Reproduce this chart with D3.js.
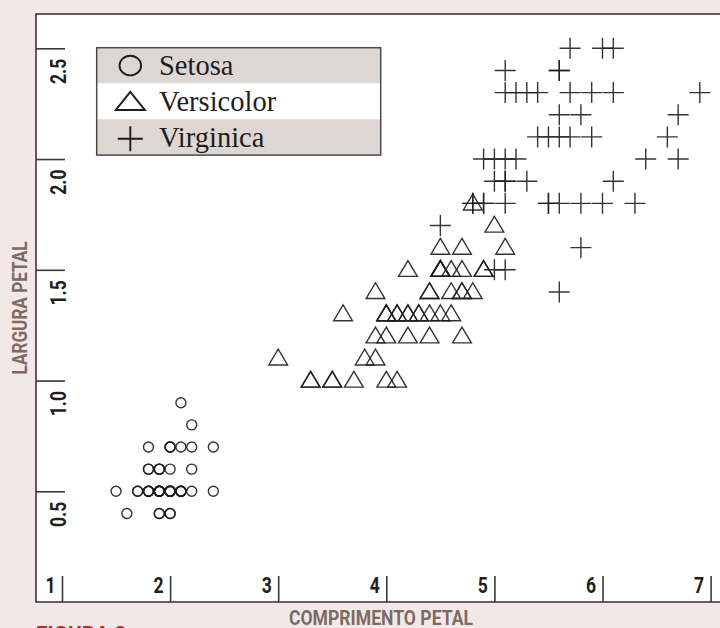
<!DOCTYPE html>
<html>
<head>
<meta charset="utf-8">
<script src="https://cdn.jsdelivr.net/npm/d3@7/dist/d3.min.js"></script>
<style>
  html, body { margin: 0; padding: 0; background: #f2e9e6; }
  svg { display: block; }
  .cond { font-family: Roboto, "Liberation Sans", sans-serif; font-weight: bold; }
</style>
</head>
<body>
<svg id="chart" width="720" height="628"></svg>
<script>
// ---------------- DATA ----------------
const xTicks = [1, 2, 3, 4, 5, 6, 7];
const yTicks = [0.5, 1.0, 1.5, 2.0, 2.5];
const xTitle = "COMPRIMENTO PETAL";
const yTitle = "LARGURA PETAL";
const figLabel = "FIGURA 3";
const speciesNames = ["Setosa", "Versicolor", "Virginica"];

// Setosa (as plotted in the figure)
const setosaLength = [1.9,1.9,1.8,2.0,1.9,2.2,1.9,2.0,1.9,2.0,2.0,2.1,1.9,1.6,1.7,2.0,1.8,1.9,2.2,2.0,2.2,2.0,1.5,2.2,2.4,2.1,2.1,2.0,1.9,2.1,2.1,2.0,2.0,1.9,2.0,1.7,1.8,1.9,1.8,2.0,1.8,1.8,1.8,2.1,2.4,1.9,2.1,1.9,2.0,1.9];
const setosaWidth  = [0.5,0.5,0.5,0.5,0.5,0.7,0.6,0.5,0.5,0.4,0.5,0.5,0.4,0.4,0.5,0.7,0.7,0.6,0.6,0.6,0.5,0.7,0.5,0.8,0.5,0.5,0.7,0.5,0.5,0.5,0.5,0.7,0.4,0.5,0.5,0.5,0.5,0.4,0.5,0.5,0.6,0.6,0.5,0.9,0.7,0.6,0.5,0.5,0.5,0.5];

// Versicolor
const versicolorLength = [4.7,4.5,4.9,4.0,4.6,4.5,4.7,3.3,4.6,3.9,3.5,4.2,4.0,4.7,3.6,4.4,4.5,4.1,4.5,3.9,4.8,4.0,4.9,4.7,4.3,4.4,4.8,5.0,4.5,3.5,3.8,3.7,3.9,5.1,4.5,4.5,4.7,4.4,4.1,4.0,4.4,4.6,4.0,3.3,4.2,4.2,4.2,4.3,3.0,4.1];
const versicolorWidth  = [1.4,1.5,1.5,1.3,1.5,1.3,1.6,1.0,1.3,1.4,1.0,1.5,1.0,1.4,1.3,1.4,1.5,1.0,1.5,1.1,1.8,1.3,1.5,1.2,1.3,1.4,1.4,1.7,1.5,1.0,1.1,1.0,1.2,1.6,1.5,1.6,1.5,1.3,1.3,1.3,1.2,1.4,1.2,1.0,1.3,1.2,1.3,1.3,1.1,1.3];

// Virginica
const virginicaLength = [6.0,5.1,5.9,5.6,5.8,6.6,4.5,6.3,5.8,6.1,5.1,5.3,5.5,5.0,5.1,5.3,5.5,6.7,6.9,5.0,5.7,4.9,6.7,4.9,5.7,6.0,4.8,4.9,5.6,5.8,6.1,6.4,5.6,5.1,5.6,6.1,5.6,5.5,4.8,5.4,5.6,5.1,5.1,5.9,5.7,5.2,5.0,5.2,5.4,5.1];
const virginicaWidth  = [2.5,1.9,2.1,1.8,2.2,2.1,1.7,1.8,1.8,2.5,2.0,1.9,2.1,2.0,2.4,2.3,1.8,2.2,2.3,1.5,2.3,2.0,2.0,1.8,2.1,1.8,1.8,1.8,2.1,1.6,1.9,2.0,2.2,1.5,1.4,2.3,2.4,1.8,1.8,2.1,2.4,2.3,1.9,2.3,2.5,2.3,1.9,2.0,2.3,1.8];

// ---------------- CHART ----------------
const svg = d3.select("#chart");
const frame = { left: 36, top: 14, bottom: 602, right: 724 };
const ink = "#1e1e1e";

const x = d3.scaleLinear().domain([1, 7]).range([62, 710.6]);
const y = d3.scaleLinear().domain([0.5, 2.5]).range([491.3, 48.3]);

// plot frame
svg.append("rect")
  .attr("x", frame.left).attr("y", frame.top)
  .attr("width", frame.right - frame.left).attr("height", frame.bottom - frame.top)
  .attr("fill", "#fff").attr("stroke", "#3a3a3a").attr("stroke-width", 1.6);

// x axis (ticks rising from bottom edge, labels left of tick)
const xAxis = d3.axisBottom(x).tickValues(xTicks).tickSizeInner(-26).tickSizeOuter(0).tickFormat(d3.format("d"));
const gx = svg.append("g").attr("transform", `translate(0,${frame.bottom})`).call(xAxis);
gx.select(".domain").remove();
gx.selectAll(".tick line").attr("stroke", "#3a3a3a").attr("stroke-width", 1.6);
gx.selectAll(".tick text")
  .attr("class", "cond")
  .attr("x", 0).attr("y", 0).attr("dy", 0)
  .attr("transform", "translate(-7,-9.3) scale(0.78,1)")
  .attr("text-anchor", "end")
  .attr("font-size", 22.5).attr("fill", ink);

// y axis (ticks from left edge, labels rotated below tick)
const yAxis = d3.axisLeft(y).tickValues(yTicks).tickSizeInner(-29).tickSizeOuter(0).tickFormat(d3.format(".1f"));
const gy = svg.append("g").attr("transform", `translate(${frame.left},0)`).call(yAxis);
gy.select(".domain").remove();
gy.selectAll(".tick line").attr("stroke", "#3a3a3a").attr("stroke-width", 1.6);
gy.selectAll(".tick text")
  .attr("class", "cond")
  .attr("x", 0).attr("y", 0).attr("dy", 0)
  .attr("transform", "translate(29.5,10) rotate(-90) scale(0.78,1)")
  .attr("text-anchor", "end")
  .attr("font-size", 22.5).attr("fill", ink);
svg.selectAll("g").attr("font-family", null).attr("font-size", null);

// markers
const sw = 1.4;
const setosa = setosaLength.map((v, i) => ({ x: v, y: setosaWidth[i] }));
const versicolor = versicolorLength.map((v, i) => ({ x: v, y: versicolorWidth[i] }));
const virginica = virginicaLength.map((v, i) => ({ x: v, y: virginicaWidth[i] }));

svg.append("g").selectAll("circle").data(setosa).join("circle")
  .attr("cx", d => x(d.x)).attr("cy", d => y(d.y)).attr("r", 5)
  .attr("fill", "none").attr("stroke", ink).attr("stroke-width", sw).attr("stroke-opacity", 0.9);

const tri = (hw, top, bot) => `M0,${top}L${hw},${bot}L${-hw},${bot}Z`;
svg.append("g").selectAll("path").data(versicolor).join("path")
  .attr("transform", d => `translate(${x(d.x)},${y(d.y)})`)
  .attr("d", tri(9.4, -9.2, 6.6))
  .attr("fill", "none").attr("stroke", ink).attr("stroke-width", sw).attr("stroke-opacity", 0.9)
  .attr("stroke-linejoin", "miter");

const plus = a => `M${-a},0H${a}M0,${-a}V${a}`;
svg.append("g").selectAll("path").data(virginica).join("path")
  .attr("transform", d => `translate(${x(d.x)},${y(d.y)})`)
  .attr("d", plus(10.5))
  .attr("fill", "none").attr("stroke", ink).attr("stroke-width", sw).attr("stroke-opacity", 0.9);

// legend
const lg = svg.append("g");
const lx = 96.7, ly = 47.7, lw = 284, rowH = 35.8;
speciesNames.forEach((name, i) => {
  lg.append("rect").attr("x", lx).attr("y", ly + i * rowH).attr("width", lw).attr("height", rowH)
    .attr("fill", i === 1 ? "#ffffff" : "#ddd6d3");
});
lg.append("rect").attr("x", lx).attr("y", ly).attr("width", lw).attr("height", rowH * 3)
  .attr("fill", "none").attr("stroke", "#4a4a4a").attr("stroke-width", 1.5);
const symX = 130.3;
lg.append("ellipse").attr("cx", symX).attr("cy", ly + rowH * 0.5).attr("rx", 10.8).attr("ry", 9.8)
  .attr("fill", "none").attr("stroke", ink).attr("stroke-width", 1.9);
lg.append("path").attr("transform", `translate(${symX},${ly + rowH * 1.5})`)
  .attr("d", tri(14.5, -9.5, 8.5)).attr("fill", "none").attr("stroke", ink).attr("stroke-width", 2);
lg.append("path").attr("transform", `translate(${symX},${ly + rowH * 2.5 + 1.5})`)
  .attr("d", plus(12.5)).attr("fill", "none").attr("stroke", ink).attr("stroke-width", 1.9);
lg.selectAll("text.lab").data(speciesNames).join("text")
  .attr("class", "lab")
  .attr("x", 159).attr("y", (d, i) => ly + i * rowH + 27.5)
  .attr("font-family", "'Liberation Serif', 'Times New Roman', serif")
  .attr("font-size", 28.5).attr("fill", ink)
  .text(d => d);

// axis titles
svg.append("text").attr("class", "cond")
  .attr("x", 381).attr("y", 624.5).attr("text-anchor", "middle")
  .attr("font-size", 21).attr("fill", "#7d6a64")
  .attr("textLength", 184).attr("lengthAdjust", "spacingAndGlyphs")
  .text(xTitle);
svg.append("text").attr("class", "cond")
  .attr("transform", "translate(27,308) rotate(-90)").attr("text-anchor", "middle")
  .attr("font-size", 21).attr("fill", "#7d6a64")
  .attr("textLength", 133).attr("lengthAdjust", "spacingAndGlyphs")
  .text(yTitle);

// figure label (cut by the bottom edge)
svg.append("text").attr("class", "cond")
  .attr("x", 36).attr("y", 641)
  .attr("font-size", 21).attr("fill", "#c1272d")
  .text(figLabel);
</script>
</body>
</html>
